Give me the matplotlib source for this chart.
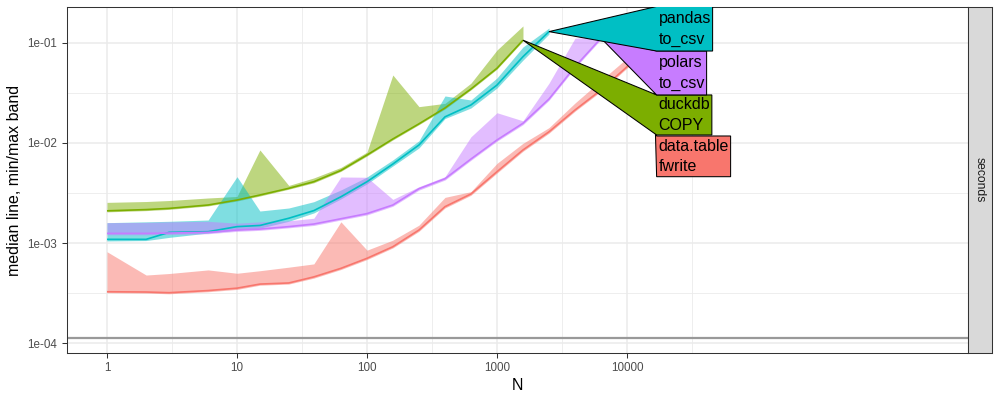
import numpy as np
import matplotlib
matplotlib.use("Agg")
import matplotlib.pyplot as plt
from matplotlib.patches import Polygon
from matplotlib.ticker import FixedLocator, FixedFormatter, NullFormatter

plt.rcParams['font.family'] = ['Liberation Sans', 'DejaVu Sans']

# ---------------- data ----------------
N = [1, 2, 3, 6, 10, 15, 25, 39, 63, 100, 158, 251, 398, 630, 1000,
     1584, 2511, 3981, 6309, 10000, 15848]

dt_median = [3.27e-4, 3.25e-4, 3.2e-4, 3.36e-4, 3.55e-4, 3.9e-4, 4.0e-4, 4.6e-4, 5.6e-4, 7.05e-4,
             9.2e-4, 1.35e-3, 2.31e-3, 3.09e-3, 5.16e-3, 8.5e-3, 1.29e-2, 2.13e-2, 3.37e-2, 5.75e-2, 9.5e-2]
dt_max = [8.2e-4, 4.8e-4, 4.97e-4, 5.4e-4, 5.0e-4, 5.3e-4, 5.75e-4, 6.2e-4, 1.63e-3, 8.5e-4,
          1.07e-3, 1.51e-3, 2.86e-3, 3.26e-3, 6.25e-3, 9.9e-3, 1.42e-2, 2.5e-2, 4.2e-2, 7.0e-2, 0.106]
dt_min = [3.2e-4, 3.17e-4, 3.12e-4, 3.27e-4, 3.45e-4, 3.8e-4, 3.9e-4, 4.47e-4, 5.45e-4, 6.85e-4,
          8.95e-4, 1.31e-3, 2.24e-3, 3.0e-3, 5.0e-3, 8.25e-3, 1.25e-2, 2.07e-2, 3.27e-2, 5.58e-2, 9.2e-2]

duck_median = [2.10e-3, 2.16e-3, 2.22e-3, 2.40e-3, 2.69e-3, 3.02e-3, 3.52e-3, 4.10e-3, 5.31e-3, 7.57e-3,
               1.094e-2, 1.55e-2, 2.23e-2, 3.45e-2, 5.56e-2, 0.106]
duck_max = [2.55e-3, 2.6e-3, 2.66e-3, 2.82e-3, 2.92e-3, 8.5e-3, 3.76e-3, 4.47e-3, 5.69e-3, 8.1e-3,
            4.76e-2, 2.30e-2, 2.48e-2, 3.94e-2, 8.45e-2, 0.147]
duck_min = [2.05e-3, 2.11e-3, 2.17e-3, 2.35e-3, 2.63e-3, 2.95e-3, 3.45e-3, 4.0e-3, 5.2e-3, 7.4e-3,
            1.07e-2, 1.52e-2, 2.18e-2, 3.38e-2, 5.45e-2, 0.104]

pandas_median = [1.09e-3, 1.09e-3, 1.28e-3, 1.30e-3, 1.46e-3, 1.50e-3, 1.77e-3, 2.11e-3, 2.90e-3, 4.10e-3,
                 6.15e-3, 9.53e-3, 1.82e-2, 2.39e-2, 3.78e-2, 7.25e-2, 0.129]
pandas_max = [1.60e-3, 1.63e-3, 1.65e-3, 1.70e-3, 4.60e-3, 2.09e-3, 2.24e-3, 2.59e-3, 3.39e-3, 4.57e-3,
              6.76e-3, 1.05e-2, 2.94e-2, 2.68e-2, 4.45e-2, 9.06e-2, 0.140]
pandas_min = [1.05e-3, 1.06e-3, 1.14e-3, 1.26e-3, 1.35e-3, 1.41e-3, 1.65e-3, 2.0e-3, 2.76e-3, 3.90e-3,
              5.88e-3, 8.9e-3, 1.75e-2, 2.23e-2, 3.53e-2, 6.7e-2, 0.122]

polars_median = [1.25e-3, 1.25e-3, 1.26e-3, 1.28e-3, 1.35e-3, 1.38e-3, 1.46e-3, 1.55e-3, 1.75e-3, 1.97e-3,
                 2.40e-3, 3.49e-3, 4.39e-3, 6.90e-3, 1.07e-2, 1.57e-2, 2.74e-2, 5.76e-2, 0.111]
polars_max = [1.60e-3, 1.61e-3, 1.63e-3, 1.65e-3, 1.58e-3, 1.63e-3, 1.67e-3, 1.77e-3, 4.57e-3, 4.54e-3,
              2.73e-3, 3.65e-3, 4.6e-3, 1.15e-2, 2.0e-2, 1.66e-2, 3.94e-2, 0.111, 0.114]
polars_min = [1.21e-3, 1.21e-3, 1.22e-3, 1.24e-3, 1.31e-3, 1.34e-3, 1.42e-3, 1.50e-3, 1.70e-3, 1.91e-3,
              2.33e-3, 3.38e-3, 4.26e-3, 6.7e-3, 1.04e-2, 1.52e-2, 2.66e-2, 5.6e-2, 0.108]

labels = ["data.table\nfwrite", "duckdb\nCOPY", "pandas\nto_csv", "polars\nto_csv"]
baseline = 1.14e-4

x_breaks = [1, 10, 100, 1000, 10000]
x_break_labels = ["1", "10", "100", "1000", "10000"]
y_breaks = [1e-4, 1e-3, 1e-2, 1e-1]
y_break_labels = ["1e-04", "1e-03", "1e-02", "1e-01"]

# ---------------- style ----------------
colors = ["#F8766D", "#7CAE00", "#00BFC4", "#C77CFF"]
series = [
    (dt_median, dt_min, dt_max),
    (duck_median, duck_min, duck_max),
    (pandas_median, pandas_min, pandas_max),
    (polars_median, polars_min, polars_max),
]

fig = plt.figure(figsize=(10, 4), dpi=100)
ax = fig.add_axes([0.0665, 0.11825, 0.9015, 0.8635])
ax.set_xscale('log')
ax.set_yscale('log')
ax.set_xlim(10 ** -0.3115, 10 ** 6.623)
ax.set_ylim(10 ** -4.0938, 10 ** -0.6467)

# grid
for v in [10 ** (k + 0.5) for k in range(0, 5)]:
    ax.axvline(v, color='#EBEBEB', lw=0.6, zorder=0)
for v in [10 ** (k - 0.5) for k in range(-3, 0)]:
    ax.axhline(v, color='#EBEBEB', lw=0.6, zorder=0)
for v in x_breaks:
    ax.axvline(v, color='#EBEBEB', lw=1.1, zorder=0)
for v in y_breaks:
    ax.axhline(v, color='#EBEBEB', lw=1.1, zorder=0)

ax.axhline(baseline, color='#999999', lw=1.6, zorder=1)

for (med, lo, hi), c in zip(series, colors):
    n = len(med)
    ax.fill_between(N[:n], lo, hi, color=c, alpha=0.5, lw=0, zorder=2)
for (med, lo, hi), c in zip(series, colors):
    n = len(med)
    ax.plot(N[:n], med, color=c, lw=1.2, zorder=3, solid_capstyle='butt')

ax.xaxis.set_major_locator(FixedLocator(x_breaks))
ax.xaxis.set_major_formatter(FixedFormatter(x_break_labels))
ax.xaxis.set_minor_locator(FixedLocator([]))
ax.xaxis.set_minor_formatter(NullFormatter())
ax.yaxis.set_major_locator(FixedLocator(y_breaks))
ax.yaxis.set_major_formatter(FixedFormatter(y_break_labels))
ax.yaxis.set_minor_locator(FixedLocator([]))
ax.yaxis.set_minor_formatter(NullFormatter())
ax.tick_params(axis='both', which='major', length=3.5, width=0.75, color='#333333',
               labelcolor='#4D4D4D', labelsize=8.4, pad=3.3)
for s in ax.spines.values():
    s.set_color('#333333')
    s.set_linewidth(0.75)
ax.set_xlabel("N", fontsize=11.5, labelpad=2.5)
ax.set_ylabel("median line, min/max band", fontsize=11.5, labelpad=3.5)

# facet strip
sax = fig.add_axes([0.968, 0.11825, 0.024, 0.8635])
sax.set_xticks([])
sax.set_yticks([])
sax.set_facecolor('#D9D9D9')
for s in sax.spines.values():
    s.set_color('#333333')
    s.set_linewidth(0.75)
sax.text(0.5, 0.5, "seconds", rotation=-90, ha='center', va='center',
         fontsize=8.7, color='#1A1A1A', transform=sax.transAxes)

# ---------------- direct labels (polygon boxes) ----------------
box_left = 16900
box_ranges = [(0.0046, 0.01172), (0.0120, 0.0301), (0.0826, 0.23), (0.0301, 0.0826)]
draw_order = [0, 1, 3, 2]

fig.canvas.draw()
renderer = fig.canvas.get_renderer()
inv = ax.transData.inverted()
pad_px = 1.8
for i in draw_order:
    med = series[i][0]
    n = len(med)
    tip = ax.transData.transform((N[n - 1], med[-1]))
    lo, hi = box_ranges[i]
    xl, yb = ax.transData.transform((box_left, lo))
    _, yt = ax.transData.transform((box_left, hi))
    yc = 0.5 * (yb + yt)
    tx, ty = inv.transform((xl + pad_px, yc))
    t = ax.text(tx, ty, labels[i], ha='left', va='center', fontsize=11.5,
                linespacing=1.45, color='black', zorder=6, clip_on=True)
    bb = t.get_window_extent(renderer)
    xr = bb.x1 + pad_px
    verts_px = [tip, (xl, yt), (xr, yt), (xr, yb), (xl, yb)]
    verts = inv.transform(verts_px)
    poly = Polygon(verts, closed=True, facecolor=colors[i], edgecolor='black',
                   lw=0.75, zorder=5)
    ax.add_patch(poly)

fig.savefig("out.png", dpi=100)
